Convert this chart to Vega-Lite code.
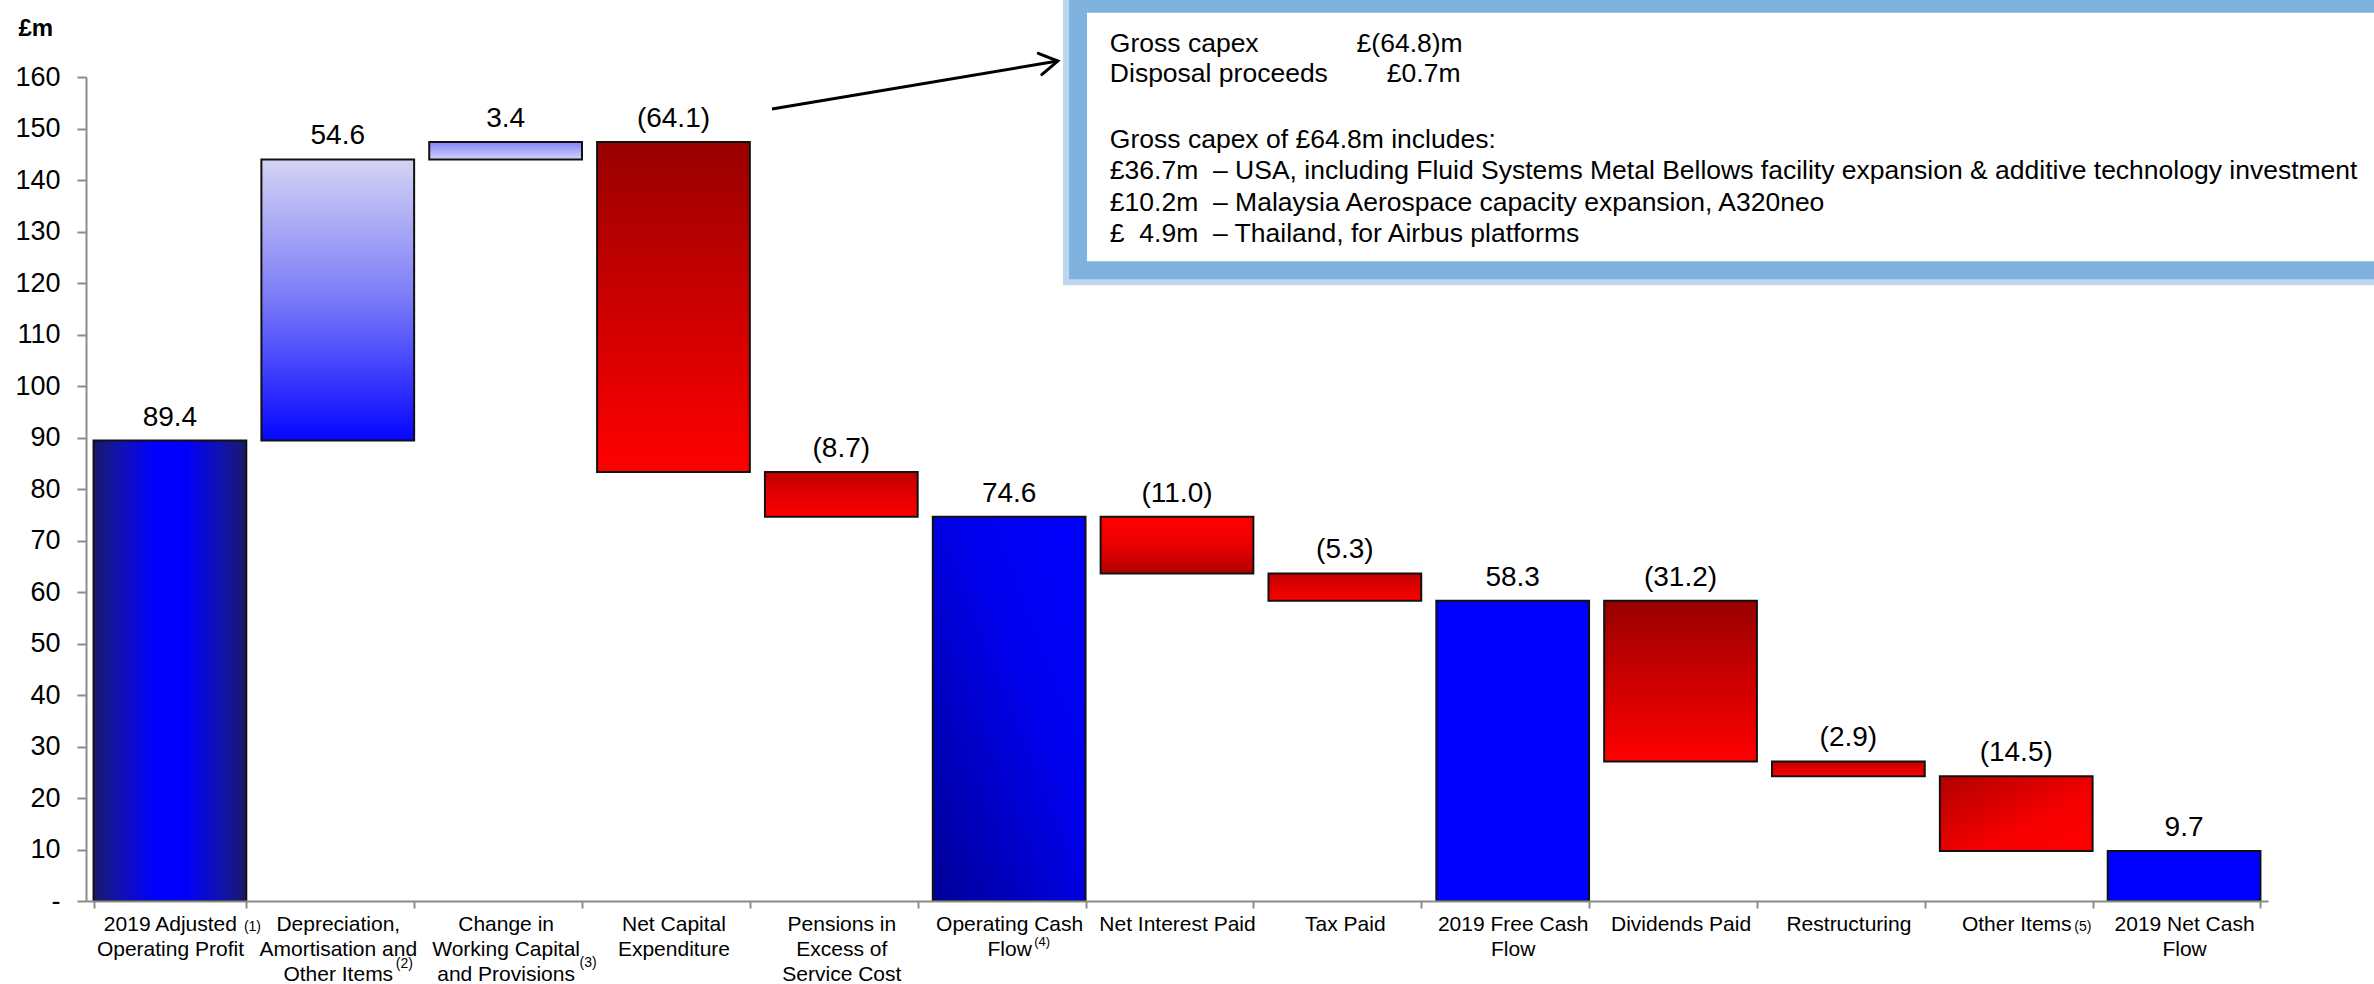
{
  "$schema": "https://vega.github.io/schema/vega-lite/v6.json",
  "width": 2288,
  "height": 901,
  "autosize": {"type": "none"},
  "padding": {"left": 86, "top": 0, "right": 0, "bottom": 83},
  "background": "white",
  "config": {
    "font": "Liberation Sans",
    "view": {"stroke": null},
    "axis": {"grid": false}
  },
  "datasets": {
    "flow": [
      {"cat": "2019 Adjusted|Operating Profit", "start": 0, "end": 89.4},
      {"cat": "Depreciation,|Amortisation and|Other Items", "start": 89.4, "end": 144.0},
      {"cat": "Change in|Working Capital|and Provisions", "start": 144.0, "end": 147.4},
      {"cat": "Net Capital|Expenditure", "start": 147.4, "end": 83.3},
      {"cat": "Pensions in|Excess of|Service Cost", "start": 83.3, "end": 74.6},
      {"cat": "Operating Cash|Flow", "start": 0, "end": 74.6},
      {"cat": "Net Interest Paid", "start": 74.6, "end": 63.6},
      {"cat": "Tax Paid", "start": 63.6, "end": 58.3},
      {"cat": "2019 Free Cash|Flow", "start": 0, "end": 58.3},
      {"cat": "Dividends Paid", "start": 58.3, "end": 27.1},
      {"cat": "Restructuring", "start": 27.1, "end": 24.2},
      {"cat": "Other Items", "start": 24.2, "end": 9.7},
      {"cat": "2019 Net Cash|Flow", "start": 0, "end": 9.7}
    ],
    "box": [
      {"bx": 5.91, "bx2": 14, "by": 174.2, "by2": 122.5}
    ],
    "boxText": [
      {"tx": 6.10, "ty": 166.4, "t": "Gross capex"},
      {"tx": 7.57, "ty": 166.4, "t": "£(64.8)m"},
      {"tx": 6.10, "ty": 160.6, "t": "Disposal proceeds"},
      {"tx": 7.75, "ty": 160.6, "t": "£0.7m"},
      {"tx": 6.10, "ty": 147.7, "t": "Gross capex of £64.8m includes:"},
      {"tx": 6.10, "ty": 141.7, "t": "£36.7m\u00a0 – USA, including Fluid Systems Metal Bellows facility expansion & additive technology investment"},
      {"tx": 6.10, "ty": 135.5, "t": "£10.2m\u00a0 – Malaysia Aerospace capacity expansion, A320neo"},
      {"tx": 6.10, "ty": 129.6, "t": "£\u00a0 4.9m\u00a0 – Thailand, for Airbus platforms"}
    ],
    "arrow": [
      {"ax": 4.087, "ay": 153.8, "ax2": 5.79, "ay2": 163.1}
    ]
  },
  "layer": [
    {
      "data": {"name": "flow"},
      "transform": [
        {"calculate": "max(datum.start, datum.end)", "as": "top"},
        {"calculate": "datum.end - datum.start", "as": "delta"},
        {"calculate": "datum.delta < 0 ? '(' + format(-datum.delta, '.1f') + ')' : format(datum.delta, '.1f')", "as": "label"}
      ],
      "layer": [
        {
          "mark": {"type": "bar", "stroke": "#111111", "strokeWidth": 2},
          "encoding": {
            "x": {
              "field": "cat",
              "type": "nominal",
              "scale": {
                "domain": [
                  "2019 Adjusted|Operating Profit",
                  "Depreciation,|Amortisation and|Other Items",
                  "Change in|Working Capital|and Provisions",
                  "Net Capital|Expenditure",
                  "Pensions in|Excess of|Service Cost",
                  "Operating Cash|Flow",
                  "Net Interest Paid",
                  "Tax Paid",
                  "2019 Free Cash|Flow",
                  "Dividends Paid",
                  "Restructuring",
                  "Other Items",
                  "2019 Net Cash|Flow"
                ],
                "range": [0, 2182],
                "paddingInner": 0.09,
                "paddingOuter": 0.045
              },
              "axis": {
                "title": null,
                "labelAngle": 0,
                "labelExpr": "split(datum.label, '|')",
                "labelFontSize": 21,
                "labelLineHeight": 25,
                "labelColor": "#000000",
                "labelPadding": 5,
                "labelBaseline": "top",
                "labelLimit": 0,
                "labelOverlap": false,
                "tickBand": "extent",
                "tickSize": 7,
                "tickWidth": 2,
                "tickColor": "#8c8c8c",
                "domainColor": "#8c8c8c",
                "domainWidth": 2,
                "zindex": 1
              }
            },
            "y": {
              "field": "start",
              "type": "quantitative",
              "scale": {"domain": [0, 160], "range": [901, 77], "nice": false, "zero": true},
              "axis": {
                "title": "£m",
                "titleAngle": 0,
                "titleAlign": "left",
                "titleBaseline": "middle",
                "titleX": -68,
                "titleY": 28,
                "titleFontSize": 24,
                "titleFontWeight": "bold",
                "titleColor": "#000000",
                "values": [0, 10, 20, 30, 40, 50, 60, 70, 80, 90, 100, 110, 120, 130, 140, 150, 160],
                "labelExpr": "datum.value === 0 ? '-' : datum.label",
                "labelFontSize": 27,
                "labelColor": "#000000",
                "labelPadding": 17,
                "tickSize": 9,
                "tickWidth": 2,
                "tickColor": "#8c8c8c",
                "domainColor": "#8c8c8c",
                "domainWidth": 2
              }
            },
            "y2": {"field": "end"},
            "fill": {
              "condition": [
                {"test": "datum.cat === '2019 Adjusted|Operating Profit'", "value": {"gradient": "linear", "x1": 0, "y1": 0, "x2": 1, "y2": 0, "stops": [{"offset": 0, "color": "#191966"}, {"offset": 0.14, "color": "#1414a6"}, {"offset": 0.4, "color": "#0000ff"}, {"offset": 0.6, "color": "#0000fa"}, {"offset": 0.86, "color": "#1414a6"}, {"offset": 1, "color": "#191966"}]}},
                {"test": "datum.cat === 'Depreciation,|Amortisation and|Other Items'", "value": {"gradient": "linear", "x1": 0, "y1": 0, "x2": 0, "y2": 1, "stops": [{"offset": 0, "color": "#d4d4f4"}, {"offset": 0.5, "color": "#7a7af8"}, {"offset": 1, "color": "#0505ff"}]}},
                {"test": "datum.cat === 'Change in|Working Capital|and Provisions'", "value": {"gradient": "linear", "x1": 0, "y1": 0, "x2": 0, "y2": 1, "stops": [{"offset": 0, "color": "#8484f6"}, {"offset": 1, "color": "#d2d2fc"}]}},
                {"test": "datum.cat === 'Operating Cash|Flow'", "value": {"gradient": "linear", "x1": 0, "y1": 1, "x2": 1, "y2": 0, "stops": [{"offset": 0, "color": "#000098"}, {"offset": 0.6, "color": "#0000ee"}, {"offset": 1, "color": "#0000ff"}]}},
                {"test": "datum.cat === 'Net Interest Paid'", "value": {"gradient": "linear", "x1": 0, "y1": 0, "x2": 0, "y2": 1, "stops": [{"offset": 0, "color": "#ff0000"}, {"offset": 0.45, "color": "#ee0000"}, {"offset": 1, "color": "#b00000"}]}},
                {"test": "datum.cat === 'Other Items'", "value": {"gradient": "linear", "x1": 0, "y1": 0, "x2": 1, "y2": 1, "stops": [{"offset": 0, "color": "#b00000"}, {"offset": 0.6, "color": "#f40000"}, {"offset": 1, "color": "#ff0000"}]}},
                {"test": "indexof(['Net Capital|Expenditure', 'Dividends Paid'], datum.cat) >= 0", "value": {"gradient": "linear", "x1": 0, "y1": 0, "x2": 0, "y2": 1, "stops": [{"offset": 0, "color": "#990000"}, {"offset": 1, "color": "#ff0000"}]}},
                {"test": "indexof(['Pensions in|Excess of|Service Cost', 'Tax Paid', 'Restructuring'], datum.cat) >= 0", "value": {"gradient": "linear", "x1": 0, "y1": 0, "x2": 0, "y2": 1, "stops": [{"offset": 0, "color": "#c00000"}, {"offset": 1, "color": "#ff0000"}]}}
              ],
              "value": "#0000ff"
            }
          }
        },
        {
          "mark": {"type": "text", "fontSize": 28, "baseline": "alphabetic", "align": "center", "dy": -15, "color": "#000000"},
          "encoding": {
            "x": {"field": "cat", "type": "nominal"},
            "y": {"field": "top", "type": "quantitative"},
            "text": {"field": "label"}
          }
        },
        {
          "data": {"values": [{}]},
          "mark": {"type": "text", "fontSize": 14, "align": "left", "baseline": "middle", "dx": 74, "dy": 26, "color": "#000000"},
          "encoding": {"x": {"datum": "2019 Adjusted|Operating Profit"}, "y": {"datum": 0}, "text": {"value": "(1)"}}
        },
        {
          "data": {"values": [{}]},
          "mark": {"type": "text", "fontSize": 14, "align": "left", "baseline": "middle", "dx": 58, "dy": 63, "color": "#000000"},
          "encoding": {"x": {"datum": "Depreciation,|Amortisation and|Other Items"}, "y": {"datum": 0}, "text": {"value": "(2)"}}
        },
        {
          "data": {"values": [{}]},
          "mark": {"type": "text", "fontSize": 14, "align": "left", "baseline": "middle", "dx": 74, "dy": 62, "color": "#000000"},
          "encoding": {"x": {"datum": "Change in|Working Capital|and Provisions"}, "y": {"datum": 0}, "text": {"value": "(3)"}}
        },
        {
          "data": {"values": [{}]},
          "mark": {"type": "text", "fontSize": 13, "align": "left", "baseline": "middle", "dx": 25, "dy": 41, "color": "#000000"},
          "encoding": {"x": {"datum": "Operating Cash|Flow"}, "y": {"datum": 0}, "text": {"value": "(4)"}}
        },
        {
          "data": {"values": [{}]},
          "mark": {"type": "text", "fontSize": 14, "align": "left", "baseline": "middle", "dx": 58, "dy": 26, "color": "#000000"},
          "encoding": {"x": {"datum": "Other Items"}, "y": {"datum": 0}, "text": {"value": "(5)"}}
        }
      ]
    },
    {
      "layer": [
        {
          "data": {"name": "box"},
          "mark": {"type": "rect", "fill": null, "stroke": "#bcd6ee", "strokeWidth": 30},
          "encoding": {
            "x": {"field": "bx", "type": "quantitative", "scale": {"domain": [0, 13], "range": [0, 2182], "nice": false, "zero": false}, "axis": null},
            "x2": {"field": "bx2"},
            "y": {"field": "by", "type": "quantitative", "scale": {"domain": [0, 160], "range": [901, 77], "nice": false, "zero": false}, "axis": null},
            "y2": {"field": "by2"}
          }
        },
        {
          "data": {"name": "box"},
          "mark": {"type": "rect", "fill": "#ffffff", "stroke": "#7fb2de", "strokeWidth": 18},
          "encoding": {
            "x": {"field": "bx", "type": "quantitative", "scale": {"domain": [0, 13], "range": [0, 2182], "nice": false, "zero": false}, "axis": null},
            "x2": {"field": "bx2"},
            "y": {"field": "by", "type": "quantitative", "scale": {"domain": [0, 160], "range": [901, 77], "nice": false, "zero": false}, "axis": null},
            "y2": {"field": "by2"}
          }
        },
        {
          "data": {"name": "boxText"},
          "mark": {"type": "text", "fontSize": 26.5, "align": "left", "baseline": "middle", "color": "#000000"},
          "encoding": {
            "x": {"field": "tx", "type": "quantitative", "scale": {"domain": [0, 13], "range": [0, 2182], "nice": false, "zero": false}, "axis": null},
            "y": {"field": "ty", "type": "quantitative", "scale": {"domain": [0, 160], "range": [901, 77], "nice": false, "zero": false}, "axis": null},
            "text": {"field": "t"}
          }
        },
        {
          "data": {"name": "arrow"},
          "mark": {"type": "rule", "stroke": "#000000", "strokeWidth": 3},
          "encoding": {
            "x": {"field": "ax", "type": "quantitative", "scale": {"domain": [0, 13], "range": [0, 2182], "nice": false, "zero": false}, "axis": null},
            "y": {"field": "ay", "type": "quantitative", "scale": {"domain": [0, 160], "range": [901, 77], "nice": false, "zero": false}, "axis": null},
            "x2": {"field": "ax2"},
            "y2": {"field": "ay2"}
          }
        },
        {
          "data": {"name": "arrow"},
          "mark": {"type": "point", "shape": "M -1 -0.6 L 0 0 L -1 0.6", "size": 1300, "filled": false, "stroke": "#000000", "strokeWidth": 3, "opacity": 1, "angle": -9.4, "strokeCap": "round", "strokeJoin": "miter"},
          "encoding": {
            "x": {"field": "ax2", "type": "quantitative", "scale": {"domain": [0, 13], "range": [0, 2182], "nice": false, "zero": false}, "axis": null},
            "y": {"field": "ay2", "type": "quantitative", "scale": {"domain": [0, 160], "range": [901, 77], "nice": false, "zero": false}, "axis": null}
          }
        }
      ]
    }
  ],
  "resolve": {"scale": {"x": "independent", "y": "independent"}}
}
